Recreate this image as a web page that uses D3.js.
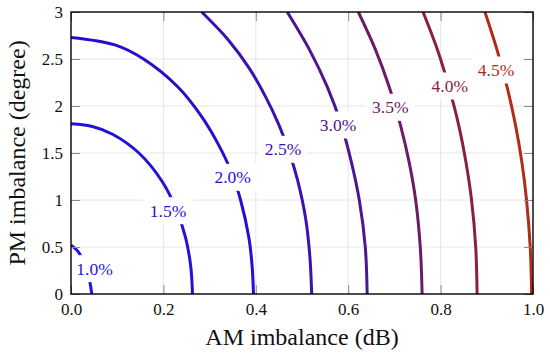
<!DOCTYPE html>
<html>
<head>
<meta charset="utf-8">
<script src="https://cdn.jsdelivr.net/npm/d3@7"></script>
<style>
  html, body { margin: 0; padding: 0; background: #ffffff; }
  svg { display: block; }
  text { font-family: "Liberation Serif", "Times New Roman", serif; }
</style>
</head>
<body>
<svg id="chart" width="550" height="355"></svg>
<script>
// ---------------- data ----------------
const levels = [1.0, 1.5, 2.0, 2.5, 3.0, 3.5, 4.0, 4.5];
const levelLabels = ["1.0%", "1.5%", "2.0%", "2.5%", "3.0%", "3.5%", "4.0%", "4.5%"];

// contour lines: [AM imbalance (dB), PM imbalance (degree)]
const contour10 = [[0, 0.52], [0.012, 0.47], [0.022, 0.40], [0.033, 0.28], [0.040, 0.15], [0.045, 0]];
const contour15 = [[0, 1.81], [0.048, 1.78], [0.090, 1.70], [0.147, 1.50], [0.197, 1.20], [0.228, 0.90], [0.248, 0.60], [0.259, 0.30], [0.263, 0]];
const contour20 = [[0, 2.73], [0.095, 2.65], [0.157, 2.50], [0.232, 2.20], [0.281, 1.90], [0.318, 1.60], [0.347, 1.30], [0.367, 1.00], [0.385, 0.60], [0.392, 0.30], [0.395, 0]];
const contour25 = [[0.283, 3.00], [0.341, 2.70], [0.386, 2.40], [0.421, 2.10], [0.450, 1.80], [0.473, 1.50], [0.491, 1.20], [0.508, 0.80], [0.517, 0.40], [0.521, 0]];
const contour30 = [[0.468, 3.00], [0.516, 2.60], [0.555, 2.20], [0.585, 1.80], [0.607, 1.40], [0.624, 1.00], [0.637, 0.50], [0.641, 0]];
const contour35 = [[0.622, 3.00], [0.659, 2.60], [0.689, 2.20], [0.713, 1.80], [0.732, 1.40], [0.746, 1.00], [0.756, 0.50], [0.760, 0]];
const contour40 = [[0.762, 3.00], [0.793, 2.60], [0.818, 2.20], [0.839, 1.80], [0.855, 1.40], [0.867, 1.00], [0.876, 0.50], [0.879, 0]];
const contour45 = [[0.896, 3.00], [0.922, 2.60], [0.944, 2.20], [0.962, 1.80], [0.976, 1.40], [0.986, 1.00], [0.994, 0.50], [0.997, 0]];
const contours = [contour10, contour15, contour20, contour25, contour30, contour35, contour40, contour45];

// contour label anchors (data coordinates)
const labelX = [0.051, 0.210, 0.350, 0.459, 0.578, 0.691, 0.820, 0.920];
const labelY = [0.270, 0.886, 1.241, 1.539, 1.798, 1.986, 2.213, 2.383];

const xTicks = [0, 0.2, 0.4, 0.6, 0.8, 1.0];
const xTickLabels = ["0.0", "0.2", "0.4", "0.6", "0.8", "1.0"];
const yTicks = [0, 0.5, 1, 1.5, 2, 2.5, 3];
const yTickLabels = ["0", "0.5", "1", "1.5", "2", "2.5", "3"];

const xTitle = "AM imbalance (dB)";
const yTitle = "PM imbalance (degree)";

// ---------------- layout ----------------
const plotL = 71, plotR = 533, plotT = 12, plotB = 294;
const tickLen = 9;

const svg = d3.select("#chart");
const x = d3.scaleLinear().domain([0, 1]).range([plotL, plotR]);
const y = d3.scaleLinear().domain([0, 3]).range([plotB, plotT]);

const color = d3.scaleLinear()
  .domain([1.0, 2.0, 3.0, 4.0, 4.5])
  .range(["#1c16e4", "#2a0cd0", "#4c1690", "#8a2040", "#b02c18"]);

// grid
const grid = svg.append("g");
grid.selectAll("line.gx").data(xTicks.slice(1, -1)).join("line")
  .attr("x1", d => x(d)).attr("x2", d => x(d))
  .attr("y1", plotT).attr("y2", plotB)
  .attr("stroke", "#e6e6e6").attr("stroke-width", 1);
grid.selectAll("line.gy").data(yTicks.slice(1, -1)).join("line")
  .attr("x1", plotL).attr("x2", plotR)
  .attr("y1", d => y(d)).attr("y2", d => y(d))
  .attr("stroke", "#e6e6e6").attr("stroke-width", 1);

// clip
svg.append("clipPath").attr("id", "plotclip")
  .append("rect").attr("x", plotL).attr("y", plotT)
  .attr("width", plotR - plotL).attr("height", plotB - plotT);

// contour lines
const line = d3.line().x(d => x(d[0])).y(d => y(d[1])).curve(d3.curveCatmullRom.alpha(0.5));
svg.append("g").attr("clip-path", "url(#plotclip)")
  .selectAll("path").data(contours).join("path")
  .attr("d", d => line(d))
  .attr("fill", "none")
  .attr("stroke", (d, i) => color(levels[i]))
  .attr("stroke-width", 3)
  .attr("stroke-linecap", "butt");

// contour labels with white boxes
const labels = svg.append("g");
levels.forEach((lv, i) => {
  const g = labels.append("g").attr("transform", `translate(${x(labelX[i])},${y(labelY[i])})`);
  const t = g.append("text")
    .attr("text-anchor", "middle")
    .attr("dy", "0.35em")
    .attr("font-size", 17.5)
    .attr("fill", color(lv))
    .text(levelLabels[i]);
  const w = t.node().getComputedTextLength();
  g.insert("rect", "text")
    .attr("x", -w / 2 - 6).attr("y", -13.5)
    .attr("width", w + 12).attr("height", 27)
    .attr("fill", "#ffffff");
});

// axes (inward ticks, mirrored)
function styleAxis(g) {
  g.select(".domain").remove();
  g.selectAll(".tick line").attr("stroke", "#8a8a8a").attr("stroke-width", 1);
  g.selectAll(".tick text").attr("font-family", "Liberation Serif, serif").attr("font-size", 17).attr("fill", "#111");
}
svg.append("g").attr("transform", `translate(0,${plotB})`)
  .call(d3.axisBottom(x).tickValues(xTicks).tickFormat((d, i) => xTickLabels[i])
    .tickSizeInner(-tickLen).tickSizeOuter(0).tickPadding(9))
  .call(styleAxis);
svg.append("g").attr("transform", `translate(0,${plotT})`)
  .call(d3.axisTop(x).tickValues(xTicks).tickFormat("")
    .tickSizeInner(-tickLen).tickSizeOuter(0))
  .call(styleAxis);
svg.append("g").attr("transform", `translate(${plotL},0)`)
  .call(d3.axisLeft(y).tickValues(yTicks).tickFormat((d, i) => yTickLabels[i])
    .tickSizeInner(-tickLen).tickSizeOuter(0).tickPadding(8))
  .call(styleAxis);
svg.append("g").attr("transform", `translate(${plotR},0)`)
  .call(d3.axisRight(y).tickValues(yTicks).tickFormat("")
    .tickSizeInner(-tickLen).tickSizeOuter(0))
  .call(styleAxis);

// frame
svg.append("rect")
  .attr("x", plotL).attr("y", plotT)
  .attr("width", plotR - plotL).attr("height", plotB - plotT)
  .attr("fill", "none").attr("stroke", "#000").attr("stroke-width", 1.4);

// axis titles
svg.append("text")
  .attr("x", (plotL + plotR) / 2).attr("y", 345)
  .attr("text-anchor", "middle")
  .attr("font-size", 24).attr("fill", "#111")
  .text(xTitle);
svg.append("text")
  .attr("transform", `translate(25,${(plotT + plotB) / 2}) rotate(-90)`)
  .attr("text-anchor", "middle")
  .attr("font-size", 24).attr("fill", "#111")
  .text(yTitle);
</script>
</body>
</html>
